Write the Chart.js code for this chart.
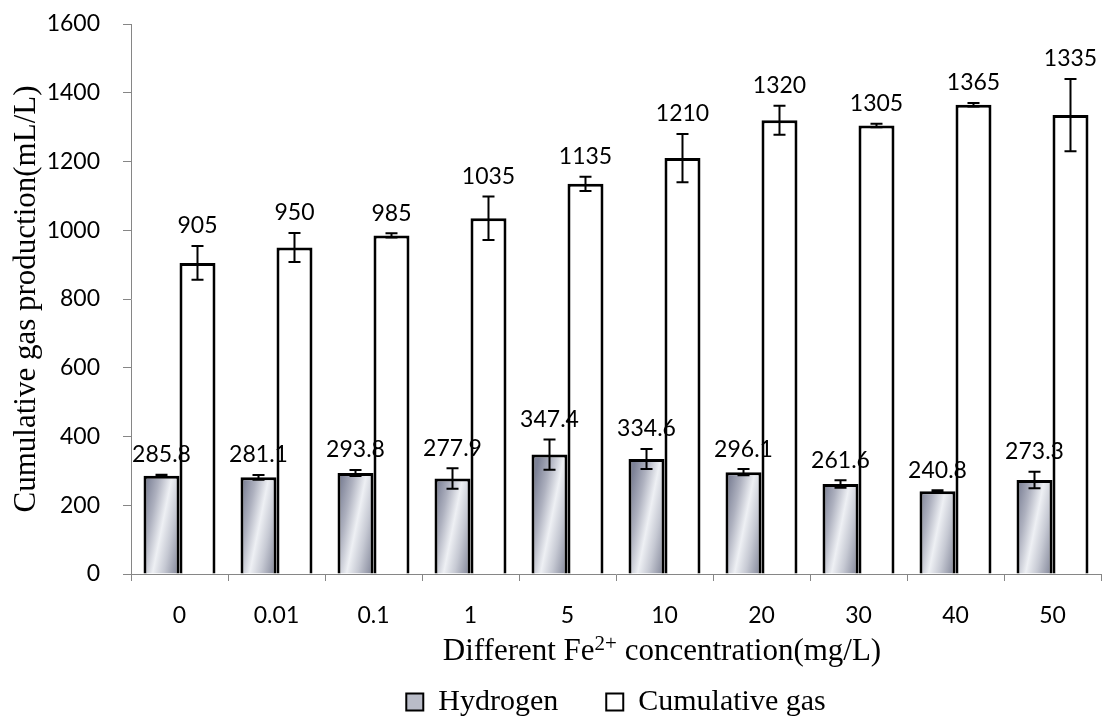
<!DOCTYPE html>
<html>
<head>
<meta charset="utf-8">
<script src="https://cdn.jsdelivr.net/npm/chart.js@4.4.0/dist/chart.umd.min.js"></script>
<style>
  html, body { margin:0; padding:0; background:#fff; }
  #wrap { width:1102px; height:721px; }
</style>
</head>
<body>
<div id="wrap"><canvas id="chart" width="1102" height="721"></canvas></div>
<script>
const concLabels = ['0', '0.01', '0.1', '1', '5', '10', '20', '30', '40', '50'];
const hydrogen = [285.8, 281.1, 293.8, 277.9, 347.4, 334.6, 296.1, 261.6, 240.8, 273.3];
const hydrogenErr = [3, 7, 9, 30, 44, 29, 9, 11, 3, 24];
const cumulative = [905, 950, 985, 1035, 1135, 1210, 1320, 1305, 1365, 1335];
const cumulativeErr = [49, 42, 6, 63, 21, 70, 42, 5, 5, 105];
const yMin = 0, yMax = 1600, yStep = 200;

const CAT_PCT = 0.742;
const numFont = 'Lato';
const serif = '"Liberation Serif", "Times New Roman", serif';

// diagonal gray-blue gradient like the Excel fill
function hydrogenFill(c){
  const chart = c.chart;
  const xs = chart.scales && chart.scales.x;
  if (c.type !== 'data' || !xs || !chart.chartArea) return '#b4b7c3';
  const center = xs.getPixelForValue(c.dataIndex);
  const cw = (xs.right - xs.left) / concLabels.length;
  const bw = cw * CAT_PCT / 2;
  const left = center - bw - 6, right = center + 6;
  const y0 = chart.chartArea.bottom - 50;
  const g = chart.ctx.createLinearGradient(left, y0, right, y0 + 0.2 * (right - left));
  g.addColorStop(0, '#7c8196');
  g.addColorStop(0.25, '#aeb1bf');
  g.addColorStop(0.5, '#eef0f4');
  g.addColorStop(0.72, '#c6c9d3');
  g.addColorStop(1, '#868a9c');
  return g;
}

const barExtras = {
  id: 'barExtras',
  afterDatasetsDraw(chart){
    const ctx = chart.ctx, y = chart.scales.y;
    const sets = [[hydrogen, hydrogenErr], [cumulative, cumulativeErr]];
    sets.forEach(([vals, errs], di) => {
      chart.getDatasetMeta(di).data.forEach((bar, i) => {
        const yt = y.getPixelForValue(vals[i] + errs[i]);
        const yb = y.getPixelForValue(vals[i] - errs[i]);
        ctx.save();
        ctx.strokeStyle = '#000';
        ctx.lineWidth = 2;
        ctx.beginPath();
        ctx.moveTo(bar.x, yt); ctx.lineTo(bar.x, yb);
        ctx.moveTo(bar.x - 6, yt); ctx.lineTo(bar.x + 6, yt);
        ctx.moveTo(bar.x - 6, yb); ctx.lineTo(bar.x + 6, yb);
        ctx.stroke();
        ctx.font = '23px ' + numFont;
        ctx.fillStyle = '#000';
        ctx.textAlign = 'center';
        ctx.textBaseline = 'middle';
        ctx.fillText(String(vals[i]), bar.x, yt - 20);
        ctx.restore();
      });
    });
  }
};

// x title has a superscript, so it is drawn by hand
const xTitle = {
  id: 'xTitle',
  afterDraw(chart){
    const ctx = chart.ctx;
    const parts = [['Different Fe', 31, 0], ['2+', 21, -10], [' concentration(mg/L)', 31, 0]];
    ctx.save();
    ctx.fillStyle = '#000';
    ctx.textAlign = 'left';
    ctx.textBaseline = 'alphabetic';
    let total = 0;
    parts.forEach(p => { ctx.font = p[1] + 'px ' + serif; total += ctx.measureText(p[0]).width; });
    let x = 662 - total / 2;
    parts.forEach(p => {
      ctx.font = p[1] + 'px ' + serif;
      ctx.fillText(p[0], x, 660 + p[2]);
      x += ctx.measureText(p[0]).width;
    });
    ctx.restore();
  }
};

new Chart(document.getElementById('chart'), {
  type: 'bar',
  data: {
    labels: concLabels,
    datasets: [
      { label: 'Hydrogen', data: hydrogen, backgroundColor: hydrogenFill, borderColor: '#000', borderWidth: 3,
        barPercentage: 1, categoryPercentage: CAT_PCT },
      { label: 'Cumulative gas', data: cumulative, backgroundColor: '#fff', borderColor: '#000', borderWidth: 3,
        barPercentage: 1, categoryPercentage: CAT_PCT }
    ]
  },
  options: {
    responsive: false,
    animation: false,
    devicePixelRatio: 1,
    layout: { padding: { top: 24, right: 1, left: 0, bottom: -6 } },
    plugins: {
      tooltip: { enabled: false },
      legend: {
        position: 'bottom',
        fullSize: false,
        labels: {
          color: '#000',
          font: { family: serif, size: 30 },
          boxWidth: 17, boxHeight: 17,
          padding: 48,
          generateLabels(chart){
            const items = Chart.defaults.plugins.legend.labels.generateLabels(chart);
            items.forEach((it, i) => {
              it.lineWidth = 2;
              if (i === 0) it.fillStyle = '#b9bcc8';
            });
            return items;
          }
        }
      }
    },
    scales: {
      x: {
        grid: { display: true, drawOnChartArea: false, drawTicks: true, tickLength: 7, color: '#868686', offset: true },
        border: { color: '#868686', width: 1 },
        ticks: { color: '#000', font: { family: numFont, size: 23 }, padding: 21, maxRotation: 0 },
        afterFit(s){ s.height = 65; }
      },
      y: {
        min: yMin, max: yMax,
        grid: { display: true, drawOnChartArea: false, drawTicks: true, tickLength: 8, color: '#868686' },
        border: { color: '#868686', width: 1 },
        ticks: { stepSize: yStep, color: '#000', font: { family: numFont, size: 23 }, padding: 23,
                 callback: v => String(v) },
        title: { display: true, text: 'Cumulative gas production(mL/L)', color: '#000',
                 font: { family: serif, size: 31 }, padding: { top: 8, bottom: 0 } },
        afterFit(s){ s.width = 131; s.paddingTop = 14; s.paddingBottom = 14; }
      }
    }
  },
  plugins: [barExtras, xTitle]
});
</script>
</body>
</html>
